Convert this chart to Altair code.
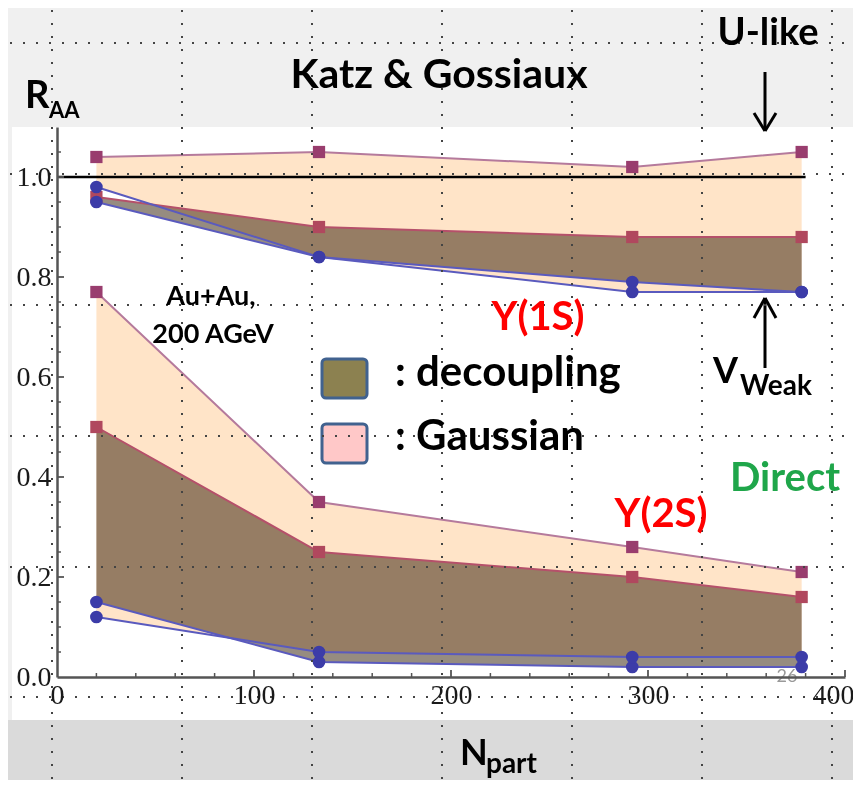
import altair as alt
import pandas as pd

# ---------------- data ----------------
npart = [20, 133, 292, 378]
gauss_hi_1s = [1.04, 1.05, 1.02, 1.05]
gauss_lo_1s = [0.98, 0.84, 0.77, 0.77]
decoup_hi_1s = [0.96, 0.90, 0.88, 0.88]
decoup_lo_1s = [0.95, 0.84, 0.79, 0.77]
gauss_hi_2s = [0.77, 0.35, 0.26, 0.21]
gauss_lo_2s = [0.12, 0.05, 0.04, 0.04]
decoup_hi_2s = [0.50, 0.25, 0.20, 0.16]
decoup_lo_2s = [0.15, 0.03, 0.02, 0.02]
ref_x_start = [0]
ref_x_end = [380]
ref_y = [1.0]
x_tick_labels = [0, 100, 200, 300, 400]
y_tick_labels = [0.0, 0.2, 0.4, 0.6, 0.8, 1.0]
x_major_ticks = [100, 200, 300, 400]
x_minor_ticks = [20, 40, 60, 80, 120, 140, 160, 180, 220, 240, 260, 280, 320, 340, 360, 380]
y_major_ticks = [0.2, 0.4, 0.6, 0.8, 1.0]
y_minor_ticks = [0.05, 0.1, 0.15, 0.25, 0.3, 0.35, 0.45, 0.5, 0.55, 0.65, 0.7, 0.75, 0.85, 0.9, 0.95, 1.05]

W, H = 788, 550
FONT = "Lato"


def band(hi, lo, state):
    return pd.DataFrame({"npart": npart, "hi": hi, "lo": lo, "state": state})


gauss = pd.concat([band(gauss_hi_1s, gauss_lo_1s, "1S"), band(gauss_hi_2s, gauss_lo_2s, "2S")])
decoup = pd.concat([band(decoup_hi_1s, decoup_lo_1s, "1S"), band(decoup_hi_2s, decoup_lo_2s, "2S")])

xs = alt.Scale(domain=[0, 400], nice=False, zero=False)
ys = alt.Scale(domain=[0, 1.1], nice=False, zero=False)
xaxis = alt.Axis(values=x_tick_labels, format="d", labelFont="Liberation Serif", labelFontSize=28,
                 labelColor="#1a1a1a", labelPadding=4, labelFlush=False, labelOverlap=False,
                 labelOffset={"condition": {"test": "datum.value == 400", "value": -12}, "value": 0},
                 ticks=False, grid=False, domainColor="#555555", domainWidth=2.5, title=None, zindex=1)
yaxis = alt.Axis(values=y_tick_labels, format=".1f", labelFont="Liberation Serif", labelFontSize=28,
                 labelColor="#1a1a1a", labelPadding=6, labelFlush=False, labelOverlap=False,
                 ticks=False, grid=False, domainColor="#555555", domainWidth=2.5, title=None, zindex=1)


def X(f):
    return alt.X(f + ":Q", scale=xs, axis=xaxis)


def Y(f):
    return alt.Y(f + ":Q", scale=ys, axis=yaxis)


one = pd.DataFrame({"d": [0]})


def rect(x1, y1, x2, y2, **kw):
    return alt.Chart(one).mark_rect(**kw).encode(
        x=alt.value(x1), x2=alt.value(x2), y=alt.value(y1), y2=alt.value(y2))


def seg(x1, y1, x2, y2, **kw):
    return alt.Chart(one).mark_rule(**kw).encode(
        x=alt.value(x1), x2=alt.value(x2), y=alt.value(y1), y2=alt.value(y2))


def label(text, x, y, size, color="black", align="left", weight="bold", font=FONT, opacity=1):
    return alt.Chart(pd.DataFrame({"t": [text]})).mark_text(
        align=align, baseline="alphabetic", fontSize=size, fontWeight=weight, font=font,
        color=color, opacity=opacity).encode(x=alt.value(x), y=alt.value(y), text="t:N")


layers = []
# slide panel
layers.append(rect(-45, 0, 820, 593, color="white"))
layers.append(rect(-70, 593, 820, 700, color="#DADADA"))

# bands
layers.append(alt.Chart(gauss).mark_area(color="#FFE4C8", opacity=1).encode(
    x=X("npart"), y=Y("hi"), y2="lo:Q", detail="state:N"))
layers.append(alt.Chart(decoup).mark_area(color="#968C80", opacity=1, blend="multiply").encode(
    x=X("npart"), y=Y("hi"), y2="lo:Q", detail="state:N"))

# reference line at 1
layers.append(alt.Chart(pd.DataFrame({"x": ref_x_start, "x2": ref_x_end, "y": ref_y}))
              .mark_rule(color="black", strokeWidth=2.5).encode(x=X("x"), x2="x2:Q", y=Y("y")))

# page number peeking out
layers.append(label("26", 730, 555, 18, color="#9a9a9a", align="center", weight="normal"))

# lines
layers.append(alt.Chart(gauss).mark_line(color="#B57A9C", strokeWidth=2).encode(
    x=X("npart"), y=Y("hi"), detail="state:N"))
layers.append(alt.Chart(decoup).mark_line(color="#B5506A", strokeWidth=2).encode(
    x=X("npart"), y=Y("hi"), detail="state:N"))
layers.append(alt.Chart(gauss).mark_line(color="#5A5ABE", strokeWidth=2).encode(
    x=X("npart"), y=Y("lo"), detail="state:N"))
layers.append(alt.Chart(decoup).mark_line(color="#5A5ABE", strokeWidth=2).encode(
    x=X("npart"), y=Y("lo"), detail="state:N"))

# markers
layers.append(alt.Chart(gauss).mark_point(shape="square", filled=True, size=150, opacity=1,
                                          color="#993D6E").encode(x=X("npart"), y=Y("hi")))
layers.append(alt.Chart(decoup).mark_point(shape="square", filled=True, size=150, opacity=1,
                                           color="#B0485E").encode(x=X("npart"), y=Y("hi")))
layers.append(alt.Chart(decoup).mark_point(shape="circle", filled=True, size=160, opacity=1,
                                           color="#3C3CA8").encode(x=X("npart"), y=Y("lo")))
layers.append(alt.Chart(gauss).mark_point(shape="circle", filled=True, size=160, opacity=1,
                                          color="#3C3CA8").encode(x=X("npart"), y=Y("lo")))

# axis ticks (pointing inward)
layers.append(alt.Chart(pd.DataFrame({"v": x_major_ticks})).mark_rule(color="#555555", strokeWidth=1.8)
              .encode(x=X("v"), y=alt.value(H), y2=alt.value(H - 7)))
layers.append(alt.Chart(pd.DataFrame({"v": x_minor_ticks})).mark_rule(color="#555555", strokeWidth=1.5)
              .encode(x=X("v"), y=alt.value(H), y2=alt.value(H - 4)))
layers.append(alt.Chart(pd.DataFrame({"v": y_major_ticks})).mark_rule(color="#555555", strokeWidth=1.8)
              .encode(y=Y("v"), x=alt.value(0), x2=alt.value(7)))
layers.append(alt.Chart(pd.DataFrame({"v": y_minor_ticks})).mark_rule(color="#555555", strokeWidth=1.5)
              .encode(y=Y("v"), x=alt.value(0), x2=alt.value(4)))

# legend boxes
layers.append(rect(265, 232, 310, 271, color="#8C8150", stroke="#41628F", strokeWidth=3, cornerRadius=4))
layers.append(rect(265, 297, 310, 336, color="#FFC8C8", stroke="#41628F", strokeWidth=3, cornerRadius=4))

# arrows
layers.append(seg(708, -55, 708, 3, color="black", strokeWidth=3))
layers.append(seg(697, -14, 708, 4, color="black", strokeWidth=3))
layers.append(seg(719, -14, 708, 4, color="black", strokeWidth=3))
layers.append(seg(708, 172, 708, 241, color="black", strokeWidth=3))
layers.append(seg(697, 191, 708, 171, color="black", strokeWidth=3))
layers.append(seg(719, 191, 708, 171, color="black", strokeWidth=3))

# slide guides (dotted)
for gx in [-5, 125, 255, 385, 515, 645, 775]:
    layers.append(seg(gx, -130, gx, 670, color="#444444", strokeWidth=2, strokeDash=[2, 11]))
for gy in [-84, 47, 178, 309, 440, 570]:
    layers.append(seg(-60, gy, 810, gy, color="#444444", strokeWidth=2, strokeDash=[2, 11]))

# texts
layers.append(label("Katz & Gossiaux", 382, -39, 41, align="center"))
layers.append(label("U-like", 711, -82, 38, align="center"))
layers.append(label("R", -32, -19, 38))
layers.append(label("AA", -8, -9, 22))
layers.append(label("Au+Au,", 154, 178, 27, align="center"))
layers.append(label("200 AGeV", 156, 216, 27, align="center"))
layers.append(label(": decoupling", 338, 259, 42))
layers.append(label(": Gaussian", 338, 323, 42))
layers.append(label("Υ(1S)", 481, 203, 40, color="#FF0000", align="center"))
layers.append(label("Υ(2S)", 604, 400, 40, color="#FF0000", align="center"))
layers.append(label("Direct", 728, 364, 40, color="#1FA64A", align="center"))
layers.append(label("V", 656, 256, 36))
layers.append(label("Weak", 683, 268, 28))
layers.append(label("N", 403, 638, 36))
layers.append(label("part", 429, 646, 28))

chart = alt.layer(*layers).properties(
    width=W, height=H,
    padding={"left": 49, "top": 119, "right": 8, "bottom": 103},
    autosize=alt.AutoSizeParams(type="none"),
    background="#F0F0F0",
).configure_view(stroke=None)

chart.save("out.html", embed_options={"renderer": "svg", "actions": False})
